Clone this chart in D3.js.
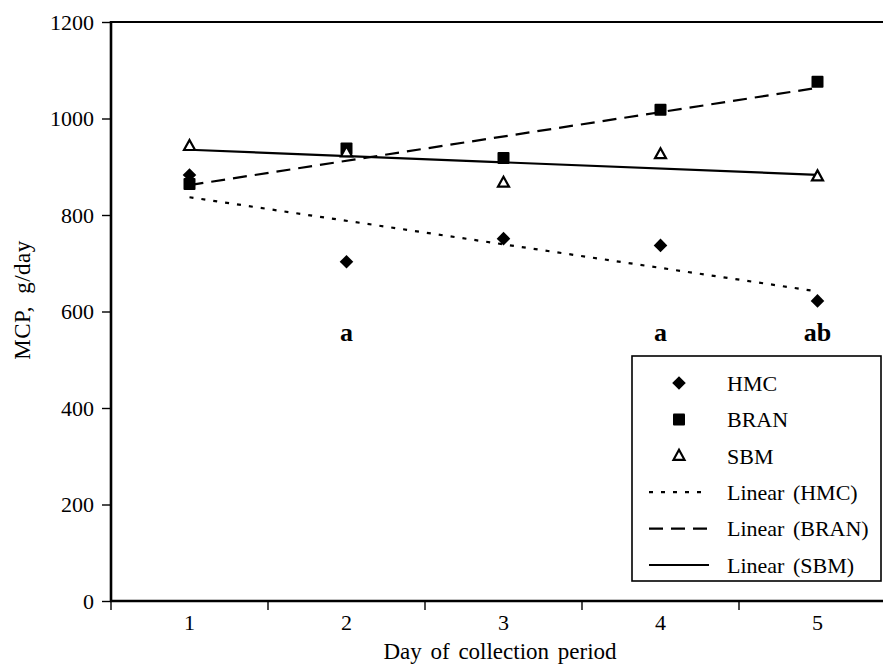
<!DOCTYPE html>
<html>
<head>
<meta charset="utf-8">
<script src="https://d3js.org/d3.v7.min.js"></script>
<style>
  body { margin: 0; background: #fff; }
  svg, svg text { font-family: "Liberation Serif", "Times New Roman", serif !important; }
</style>
</head>
<body>
<div id="chart"><svg width="883" height="667"></svg></div>
<script>
const days = [1, 2, 3, 4, 5];
const hmc = [883, 703, 751, 737, 622];
const bran = [864, 938, 918, 1018, 1076];
const sbm = [943, 930, 867, 926, 880];
const letters = ['', 'a', '', 'a', 'ab'];
const yTicks = [0, 200, 400, 600, 800, 1000, 1200];

const series = [
  { name: 'HMC', values: hmc, symbol: 'diamond', dash: '4,8' },
  { name: 'BRAN', values: bran, symbol: 'square', dash: '14,8' },
  { name: 'SBM', values: sbm, symbol: 'triangle', dash: null },
];

const svg = d3.select('#chart svg');

const x = d3.scaleBand().domain(days).range([111, 896]);
const y = d3.scaleLinear().domain([0, 1200]).range([601, 22]);
const cx = (d) => x(d) + x.bandwidth() / 2;

// least squares trend, like excel "Linear (...)"
const linearFit = (vals) => {
  const mx = d3.mean(days);
  const my = d3.mean(vals);
  let num = 0, den = 0;
  vals.forEach((v, i) => { num += (days[i] - mx) * (v - my); den += (days[i] - mx) ** 2; });
  const slope = num / den;
  return (d) => my + slope * (d - mx);
};

const drawSymbol = (g, kind, px, py) => {
  if (kind === 'diamond') {
    g.append('rect').attr('x', -4.8).attr('y', -4.8).attr('width', 9.6).attr('height', 9.6)
      .attr('fill', '#000')
      .attr('transform', `translate(${px},${py}) rotate(45)`);
  } else if (kind === 'square') {
    g.append('rect').attr('x', px - 6).attr('y', py - 6).attr('width', 12).attr('height', 12)
      .attr('rx', 1).attr('fill', '#000');
  } else {
    g.append('path')
      .attr('d', `M${px},${py - 6}L${px + 5.5},${py + 4}L${px - 5.5},${py + 4}Z`)
      .attr('fill', '#fff').attr('stroke', '#000').attr('stroke-width', 2.2)
      .attr('stroke-linejoin', 'miter');
  }
};

// axes
const yAxis = d3.axisLeft(y).tickValues(yTicks).tickSize(9).tickPadding(8).tickFormat(d3.format('d'));
const gy = svg.append('g').attr('transform', 'translate(111,0)').call(yAxis);
gy.select('.domain').remove();
gy.selectAll('.tick line').attr('stroke', '#000').attr('stroke-width', 1.4);
gy.selectAll('.tick text').attr('font-size', 22).attr('fill', '#000').attr('dy', '0.34em');

const xAxis = d3.axisBottom(x).tickSize(0).tickPadding(13);
const gx = svg.append('g').attr('transform', 'translate(0,601)').call(xAxis);
gx.select('.domain').remove();
gx.selectAll('.tick text').attr('font-size', 22).attr('fill', '#000');

// category separators on x axis
svg.append('g').selectAll('line').data(days).join('line')
  .attr('x1', (d) => x(d)).attr('x2', (d) => x(d))
  .attr('y1', 601).attr('y2', 610)
  .attr('stroke', '#000').attr('stroke-width', 1.4);

// frame
svg.append('line').attr('x1', 111).attr('x2', 896).attr('y1', 22).attr('y2', 22)
  .attr('stroke', '#000').attr('stroke-width', 2.2);
svg.append('line').attr('x1', 111).attr('x2', 111).attr('y1', 21).attr('y2', 602)
  .attr('stroke', '#000').attr('stroke-width', 2.6);
svg.append('line').attr('x1', 110).attr('x2', 896).attr('y1', 601).attr('y2', 601)
  .attr('stroke', '#000').attr('stroke-width', 2.6);

// trend lines
const line = d3.line().x((d) => cx(d[0])).y((d) => y(d[1]));
series.forEach((s) => {
  const f = linearFit(s.values);
  svg.append('path')
    .datum([[days[0], f(days[0])], [days[days.length - 1], f(days[days.length - 1])]])
    .attr('d', line)
    .attr('fill', 'none').attr('stroke', '#000').attr('stroke-width', 2.2)
    .attr('stroke-dasharray', s.dash);
});

// markers
series.forEach((s) => {
  const g = svg.append('g');
  s.values.forEach((v, i) => drawSymbol(g, s.symbol, cx(days[i]), y(v)));
});

// significance letters
svg.append('g').selectAll('text').data(days).join('text')
  .attr('x', (d) => cx(d)).attr('y', 341)
  .attr('text-anchor', 'middle').attr('font-size', 26).attr('font-weight', 'bold')
  .text((d, i) => letters[i]);

// axis titles
svg.append('text').attr('x', 500).attr('y', 659).attr('text-anchor', 'middle')
  .attr('font-size', 23).attr('word-spacing', 3).text('Day of collection period');
svg.append('text').attr('transform', 'translate(30,300) rotate(-90)').attr('text-anchor', 'middle')
  .attr('font-size', 23).attr('word-spacing', 6).attr('letter-spacing', 0.5).text('MCP, g/day');

// legend
const legend = svg.append('g');
legend.append('rect').attr('x', 632).attr('y', 356).attr('width', 249).attr('height', 225)
  .attr('fill', '#fff').attr('stroke', '#000').attr('stroke-width', 1.6);
const rowY = d3.scalePoint().domain(d3.range(6)).range([383, 565]);
series.forEach((s, i) => {
  drawSymbol(legend, s.symbol, 679, rowY(i));
  legend.append('text').attr('x', 727).attr('y', rowY(i)).attr('dy', '0.35em')
    .attr('font-size', 22).text(s.name);
});
series.forEach((s, i) => {
  const yy = rowY(i + 3);
  legend.append('line').attr('x1', 649).attr('x2', 709).attr('y1', yy).attr('y2', yy)
    .attr('stroke', '#000').attr('stroke-width', 2.2).attr('stroke-dasharray', s.dash);
  legend.append('text').attr('x', 727).attr('y', yy).attr('dy', '0.35em')
    .attr('font-size', 22).attr('word-spacing', 3).text(`Linear (${s.name})`);
});
</script>
</body>
</html>
